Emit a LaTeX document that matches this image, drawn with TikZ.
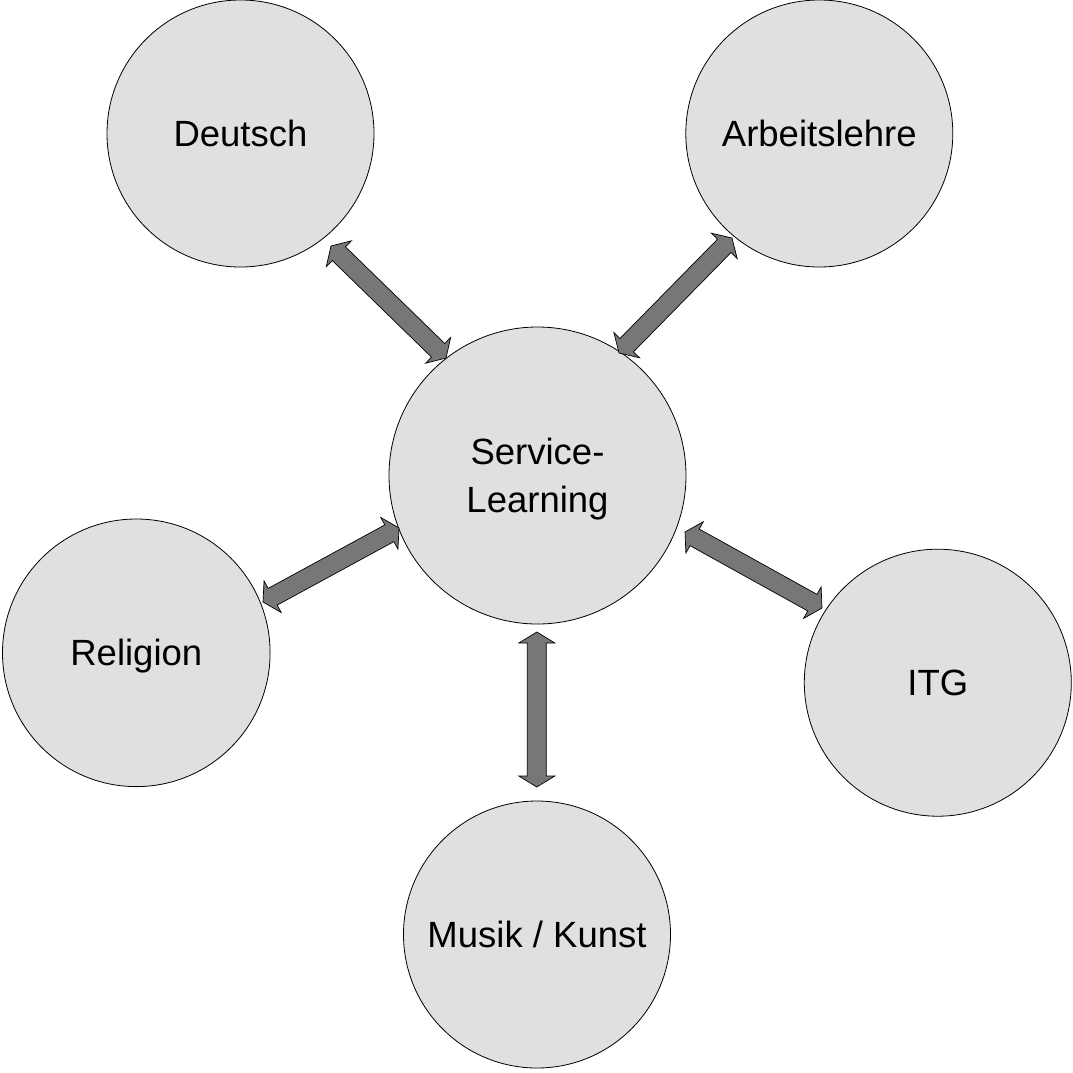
\documentclass[tikz,border=0pt]{standalone}
\usepackage{fontspec}
\setmainfont{Liberation Sans}
\usetikzlibrary{calc}
\definecolor{bubblefill}{HTML}{E0E0E0}
\definecolor{arrowfill}{HTML}{777777}
\newcommand\hl{11pt}
\newcommand\hw{18pt}
\newcommand\sw{9.5pt}
\newcommand\dblarrow[2]{%
  \draw[blockarrow] (#1)
    -- ($(#1)!\hl!(#2)!\hw!90:(#2)$)
    -- ($(#1)!\hl!(#2)!\sw!90:(#2)$)
    -- ($(#2)!\hl!(#1)!\sw!-90:(#1)$)
    -- ($(#2)!\hl!(#1)!\hw!-90:(#1)$)
    -- (#2)
    -- ($(#2)!\hl!(#1)!\hw!90:(#1)$)
    -- ($(#2)!\hl!(#1)!\sw!90:(#1)$)
    -- ($(#1)!\hl!(#2)!\sw!-90:(#2)$)
    -- ($(#1)!\hl!(#2)!\hw!-90:(#2)$)
    -- cycle;}
\begin{document}
\begin{tikzpicture}[x=1pt,y=-1pt,
  bubble/.style={circle, draw=black, line width=0.8pt, fill=bubblefill,
    inner sep=0pt, minimum size=267pt, font=\fontsize{36.5}{47.4}\selectfont,
    text height=26.1pt, text depth=0pt},
  blockarrow/.style={draw=black, line width=0.7pt, fill=arrowfill, line join=miter}]
\useasboundingbox (0,0) rectangle (1073,1072);
\node[bubble] (D) at (240.5,133.5) {Deutsch};
\node[bubble] (A) at (819.3,133.5) {Arbeitslehre};
\node[bubble, minimum size=297pt, align=center, text height=73.5pt] (S) at (537.5,475.5) {Service-\\Learning};
\node[bubble, minimum size=267.6pt] (R) at (136.3,652.8) {Religion};
\node[bubble] (I) at (937.8,682.7) {ITG};
\node[bubble] (M) at (537,934.5) {Musik / Kunst};
\coordinate (d1) at (331,246);  \coordinate (d2) at (446,358);
\coordinate (a1) at (732,238);  \coordinate (a2) at (619,353);
\coordinate (r1) at (263,602);  \coordinate (r2) at (399,528);
\coordinate (i1) at (685,532);  \coordinate (i2) at (822,608);
\coordinate (m1) at (536.8,632); \coordinate (m2) at (536.8,787);
\dblarrow{d1}{d2}
\dblarrow{a1}{a2}
\dblarrow{r1}{r2}
\dblarrow{i1}{i2}
\dblarrow{m1}{m2}
\end{tikzpicture}
\end{document}
